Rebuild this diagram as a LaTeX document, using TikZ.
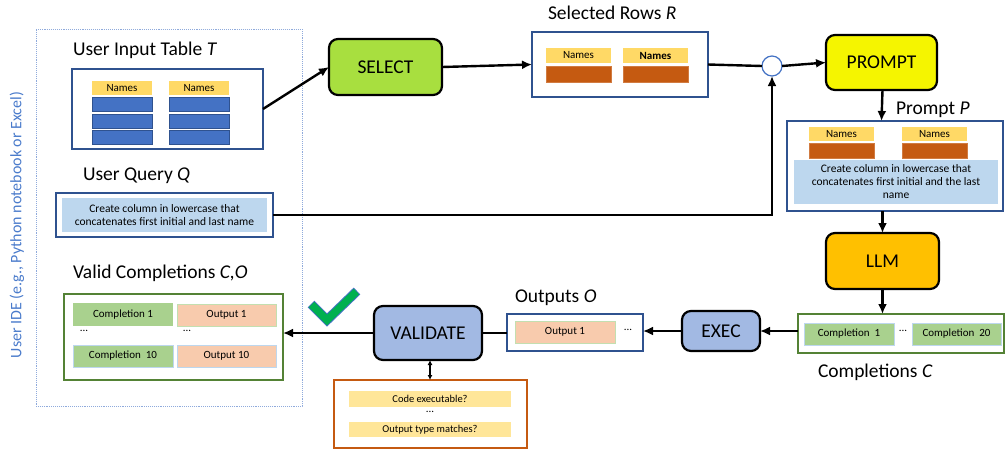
\documentclass[tikz,border=0pt]{standalone}
\usepackage{fontspec}
\setmainfont{Carlito}
\usetikzlibrary{arrows.meta,calc}
\definecolor{dblue}{HTML}{2F528F}
\definecolor{rowblue}{HTML}{4472C4}
\definecolor{hdrY}{HTML}{FFD966}
\definecolor{rowor}{HTML}{C55A11}
\definecolor{lblue}{HTML}{BDD7EE}
\definecolor{gborder}{HTML}{548235}
\definecolor{compg}{HTML}{A9D18E}
\definecolor{outo}{HTML}{F8CBAD}
\definecolor{selg}{HTML}{A8DF3F}
\definecolor{prmy}{HTML}{F5F500}
\definecolor{llmo}{HTML}{FFC000}
\definecolor{procb}{HTML}{A2B9E3}
\definecolor{chkY}{HTML}{FFE699}
\definecolor{idec}{HTML}{8FAADC}
\definecolor{idetxt}{HTML}{4A7BCB}
\definecolor{tickg}{HTML}{00B050}
\begin{document}
\begin{tikzpicture}[x=1pt,y=-1pt,
  frame/.style={draw=dblue, line width=2.4pt, fill=white, inner sep=0pt, outer sep=0pt},
  gframe/.style={draw=gborder, line width=2.4pt, fill=white, inner sep=0pt, outer sep=0pt},
  proc/.style={draw=black, line width=2.2pt, rounded corners=9pt, inner sep=0pt, outer sep=0pt, font=\fontsize{19.5}{22}\selectfont},
  small/.style={inner sep=0pt, outer sep=0pt, font=\fontsize{11}{13}\selectfont},
  hdr/.style={small, fill=hdrY},
  brow/.style={small, fill=rowblue, draw=dblue, line width=0.8pt, minimum width=60pt, minimum height=14pt},
  orow/.style={small, fill=rowor, draw=rowor!80!white, line width=0.5pt},
  comp/.style={small, fill=compg},
  outc/.style={small, fill=outo},
  lbl/.style={inner sep=0pt, outer sep=0pt, anchor=base west, font=\fontsize{19.5}{23}\selectfont},
  conn/.style={line width=2.4pt, -{Latex[length=10pt,width=9pt]}},
  plain/.style={line width=2.4pt}
]
\useasboundingbox (0,0) rectangle (1006,453);

% IDE region
\node[draw=idec, densely dotted, line width=0.9pt, minimum width=266pt, minimum height=377pt, inner sep=0pt] (ide) at (169,217.5) {};
\node[rotate=90, text=idetxt, inner sep=0pt, font=\fontsize{16}{18}\selectfont] (idelbl) at (17,225) {User IDE (e.g., Python notebook or Excel)};

% User input table
\node[lbl] (tTitle) at (73,55) {User Input Table \textit{T}};
\node[frame, minimum width=191pt, minimum height=80pt] (T) at (167.5,109) {};
\node[hdr, minimum width=60pt, minimum height=14pt] (th1) at (122,88) {Names};
\node[hdr, minimum width=60pt, minimum height=14pt] (th2) at (199,88) {Names};
\node[brow] (tr11) at (122,104.5) {};
\node[brow] (tr12) at (122,121) {};
\node[brow] (tr13) at (122,137.5) {};
\node[brow] (tr21) at (199,104.5) {};
\node[brow] (tr22) at (199,121) {};
\node[brow] (tr23) at (199,137.5) {};

% User query
\node[lbl] (qTitle) at (83,180) {User Query \textit{Q}};
\node[frame, minimum width=217pt, minimum height=44pt] (Q) at (164.5,215) {};
\node[small, fill=lblue, minimum width=205pt, minimum height=34pt, align=center, font=\fontsize{11.5}{13}\selectfont] (qtext) at (164.5,215) {Create column in lowercase that\\concatenates first initial and last name};

% Valid completions
\node[lbl] (vTitle) at (73,278) {Valid Completions \textit{C,O}};
\node[gframe, minimum width=219pt, minimum height=86pt] (V) at (173.5,337) {};
\node[comp, minimum width=100pt, minimum height=23pt] (vc1) at (123,314.5) {Completion 1};
\node[outc, draw=compg!70!white, line width=0.8pt, minimum width=99pt, minimum height=22pt] (vo1) at (226.5,315) {Output 1};
\node[small] (vd1) at (84,331) {...};
\node[small] (vd2) at (187,331) {...};
\node[comp, draw=lblue, line width=0.8pt, minimum width=100pt, minimum height=22pt] (vc10) at (123,356) {Completion~~10};
\node[outc, draw=lblue, line width=0.8pt, minimum width=99pt, minimum height=22pt] (vo10) at (226.5,356) {Output 10};

% check mark
\draw[draw=rowblue, line width=9.5pt, miter limit=10] (311,304) -- (327,320) -- (357,291);
\draw[draw=tickg, line width=7.5pt, miter limit=10] (311.6,304.6) -- (327,320) -- (356.4,291.6);

% SELECT
\node[proc, fill=selg, minimum width=113pt, minimum height=56pt] (SEL) at (385.5,67) {SELECT};

% Selected rows
\node[lbl] (rTitle) at (548,19) {Selected Rows \textit{R}};
\node[frame, minimum width=176pt, minimum height=65pt] (R) at (620,64.5) {};
\node[hdr, minimum width=65pt, minimum height=15pt] (rh1) at (578.5,55.5) {Names};
\node[hdr, minimum width=65pt, minimum height=15pt] (rh2) at (655.5,55.5) {\bfseries Names};
\node[orow, minimum width=65pt, minimum height=16pt] (rr1) at (578.5,74) {};
\node[orow, minimum width=65pt, minimum height=16pt] (rr2) at (655.5,74) {};

% join circle
\node[circle, draw=rowblue, line width=1.2pt, fill=white, minimum size=20pt, inner sep=0pt, outer sep=0pt] (circ) at (772,66) {};

% PROMPT
\node[proc, fill=prmy, minimum width=111pt, minimum height=55pt] (PR) at (881.5,62.5) {PROMPT};

% Prompt P
\node[lbl] (pTitle) at (896,114) {Prompt \textit{P}};
\node[frame, minimum width=216pt, minimum height=90pt] (P) at (895,166) {};
\node[hdr, minimum width=65pt, minimum height=14pt] (ph1) at (841.5,134) {Names};
\node[hdr, minimum width=65pt, minimum height=14pt] (ph2) at (934.5,134) {Names};
\node[orow, minimum width=65pt, minimum height=15pt] (pr1) at (841.5,150.5) {};
\node[orow, minimum width=65pt, minimum height=15pt] (pr2) at (934.5,150.5) {};
\node[small, fill=lblue, minimum width=204pt, minimum height=44pt, align=center, font=\fontsize{11.5}{13}\selectfont] (ptext) at (896,182) {Create column in lowercase that\\concatenates first initial and the last\\name};

% LLM
\node[proc, fill=llmo, minimum width=113pt, minimum height=56pt] (LLM) at (882.5,261) {LLM};

% Completions C
\node[gframe, minimum width=206pt, minimum height=39pt] (C) at (901,333.5) {};
\node[comp, draw=lblue, line width=0.8pt, minimum width=90pt, minimum height=22pt] (cc1) at (849,334) {Completion~~1};
\node[small] (cd) at (903,331) {...};
\node[comp, draw=lblue, line width=0.8pt, minimum width=89pt, minimum height=22pt] (cc20) at (956.5,334) {Completion~~20};
\node[lbl] (cTitle) at (818,377) {Completions \textit{C}};

% EXEC
\node[proc, fill=procb, minimum width=78pt, minimum height=40pt] (EX) at (721,331) {EXEC};

% Outputs O
\node[lbl] (oTitle) at (515,302) {Outputs \textit{O}};
\node[frame, minimum width=136pt, minimum height=37pt] (O) at (575,332.5) {};
\node[outc, draw=compg!70!white, line width=0.8pt, minimum width=100pt, minimum height=22pt] (oo1) at (565,332) {Output 1};
\node[small] (od) at (628,330) {...};

% VALIDATE
\node[proc, fill=procb, minimum width=108pt, minimum height=54pt] (VAL) at (428,333) {VALIDATE};

% checks
\node[draw=rowor, line width=2.4pt, fill=white, minimum width=193pt, minimum height=68pt, inner sep=0pt, outer sep=0pt] (CHK) at (430.5,414) {};
\node[small, fill=chkY, minimum width=162pt, minimum height=16pt, font=\fontsize{10.5}{12}\selectfont] (ck1) at (430,399) {Code executable?};
\node[small] (ckd) at (430,411.5) {...};
\node[small, fill=chkY, minimum width=162pt, minimum height=15pt, font=\fontsize{10.5}{12}\selectfont] (ck2) at (430,429.5) {Output type matches?};

% connectors
\draw[conn] (T.east) -- (SEL.west);
\draw[conn] (SEL.east) -- (R.west);
\draw[plain] (R.east) -- (circ.west);
\draw[conn] (circ.east) -- (PR.west);
\draw[conn] (Q.east) -| (circ.south);
\draw[conn] (PR.south -| LLM.north) -- (PR.south |- P.north);
\draw[conn] (LLM.north |- P.south) -- (LLM.north);
\draw[conn] (LLM.south) -- (LLM.south |- C.north);
\draw[conn] (EX.east -| C.west) -- (EX.east);
\draw[conn] (EX.west) -- (EX.west -| O.east);
\draw[plain] (O.west |- VAL.east) -- (VAL.east);
\draw[conn] (VAL.west) -- (VAL.west -| V.east);
\draw[line width=1.3pt, {Latex[length=5pt,width=5pt]}-{Latex[length=5pt,width=5pt]}] (VAL.south -| ck1.north) -- (ck1.north |- CHK.north);
\end{tikzpicture}
\end{document}
